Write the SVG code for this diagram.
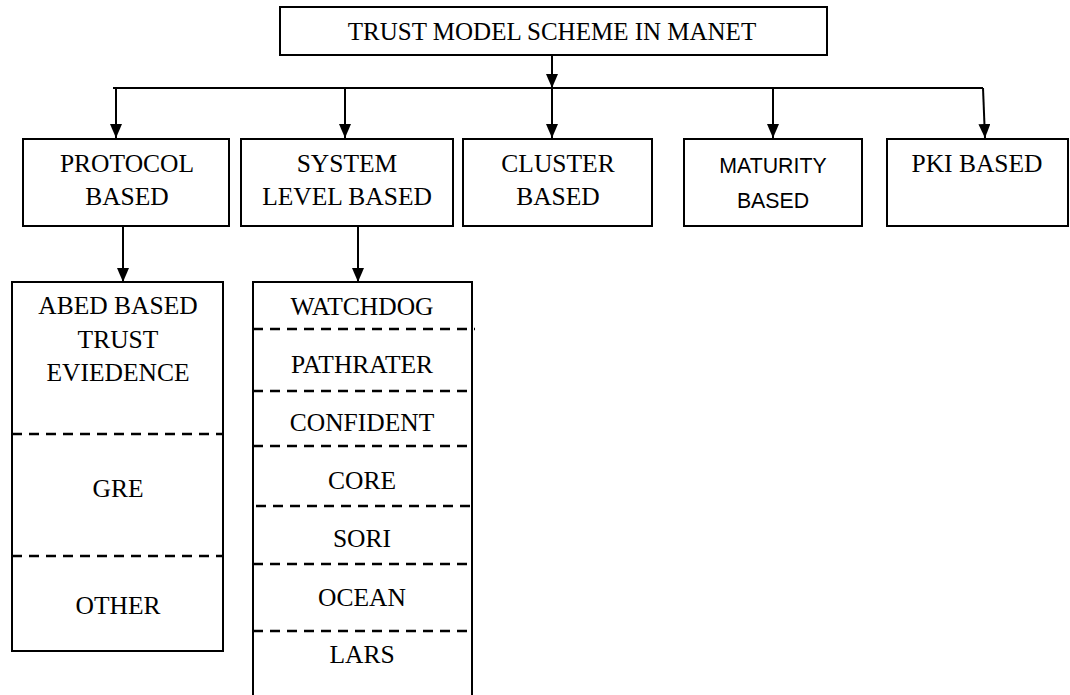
<svg xmlns="http://www.w3.org/2000/svg" width="1070" height="695" viewBox="0 0 1070 695">
<defs>
<marker id="arr" viewBox="0 0 14 12" refX="14" refY="6" markerWidth="14" markerHeight="12" markerUnits="userSpaceOnUse" orient="auto">
<path d="M0,0 L14,6 L0,12 Z" fill="#000"/>
</marker>
</defs>
<style>
.box{fill:#fff;stroke:#000;stroke-width:2}
.t{font-family:"Liberation Serif","Times New Roman",serif;font-size:25.5px;fill:#000;text-anchor:middle}
.tt{font-size:25px}
.s{font-family:"Liberation Sans",Arial,sans-serif;font-size:21.3px;fill:#000;text-anchor:middle}
.c{stroke:#000;stroke-width:2;fill:none}
.d{stroke:#000;stroke-width:2.5;stroke-dasharray:10,7;fill:none}
.side{stroke:#000;stroke-width:2;fill:none}
</style>
<rect width="1070" height="695" fill="#fff"/>
<g id="connectors">
<line class="c" x1="552" y1="55" x2="552" y2="88" marker-end="url(#arr)"/>
<line class="c" x1="113" y1="88" x2="983" y2="88"/>
<line class="c" x1="116" y1="88" x2="116" y2="138" marker-end="url(#arr)"/>
<line class="c" x1="345" y1="88" x2="345" y2="138" marker-end="url(#arr)"/>
<line class="c" x1="552" y1="88" x2="552" y2="138" marker-end="url(#arr)"/>
<line class="c" x1="773" y1="88" x2="773" y2="138" marker-end="url(#arr)"/>
<line class="c" x1="983" y1="88" x2="985" y2="138" marker-end="url(#arr)"/>
<line class="c" x1="123" y1="226" x2="123" y2="282" marker-end="url(#arr)"/>
<line class="c" x1="358" y1="226" x2="358" y2="282" marker-end="url(#arr)"/>
</g>
<g id="root">
<rect class="box" x="280" y="7" width="547" height="48"/>
<text class="t tt" x="552" y="40">TRUST MODEL SCHEME IN MANET</text>
</g>
<g id="protocol">
<rect class="box" x="23" y="139" width="206" height="87"/>
<text class="t" x="127" y="172">PROTOCOL</text>
<text class="t" x="127" y="205">BASED</text>
</g>
<g id="system">
<rect class="box" x="241" y="139" width="212" height="87"/>
<text class="t" x="347" y="172">SYSTEM</text>
<text class="t" x="347" y="205">LEVEL BASED</text>
</g>
<g id="cluster">
<rect class="box" x="463" y="139" width="189" height="87"/>
<text class="t" x="558" y="172">CLUSTER</text>
<text class="t" x="558" y="205">BASED</text>
</g>
<g id="maturity">
<rect class="box" x="684" y="139" width="178" height="87"/>
<text class="s" x="773" y="173">MATURITY</text>
<text class="s" x="773" y="208">BASED</text>
</g>
<g id="pki">
<rect class="box" x="887" y="139" width="181" height="87"/>
<text class="t" x="977" y="172">PKI BASED</text>
</g>
<g id="protocol-list">
<rect class="box" x="12" y="282" width="211" height="369"/>
<text class="t" x="118" y="314">ABED BASED</text>
<text class="t" x="118" y="348">TRUST</text>
<text class="t" x="118" y="381">EVIEDENCE</text>
<line class="d" x1="12" y1="434" x2="223" y2="434"/>
<text class="t" x="118" y="497">GRE</text>
<line class="d" x1="12" y1="556" x2="223" y2="556"/>
<text class="t" x="118" y="614">OTHER</text>
</g>
<g id="system-list">
<line class="side" x1="253" y1="282" x2="472" y2="282"/>
<line class="side" x1="253" y1="281" x2="253" y2="695"/>
<line class="side" x1="472" y1="281" x2="472" y2="695"/>
<text class="t" x="362" y="315">WATCHDOG</text>
<line class="d" x1="253" y1="329" x2="475" y2="329"/>
<text class="t" x="362" y="373">PATHRATER</text>
<line class="d" x1="253" y1="391" x2="472" y2="391"/>
<text class="t" x="362" y="431">CONFIDENT</text>
<line class="d" x1="253" y1="446" x2="472" y2="446"/>
<text class="t" x="362" y="489">CORE</text>
<line class="d" x1="256" y1="506" x2="477" y2="506"/>
<text class="t" x="362" y="547">SORI</text>
<line class="d" x1="253" y1="564" x2="472" y2="564"/>
<text class="t" x="362" y="606">OCEAN</text>
<line class="d" x1="253" y1="631" x2="472" y2="631"/>
<text class="t" x="362" y="663">LARS</text>
</g>
</svg>
